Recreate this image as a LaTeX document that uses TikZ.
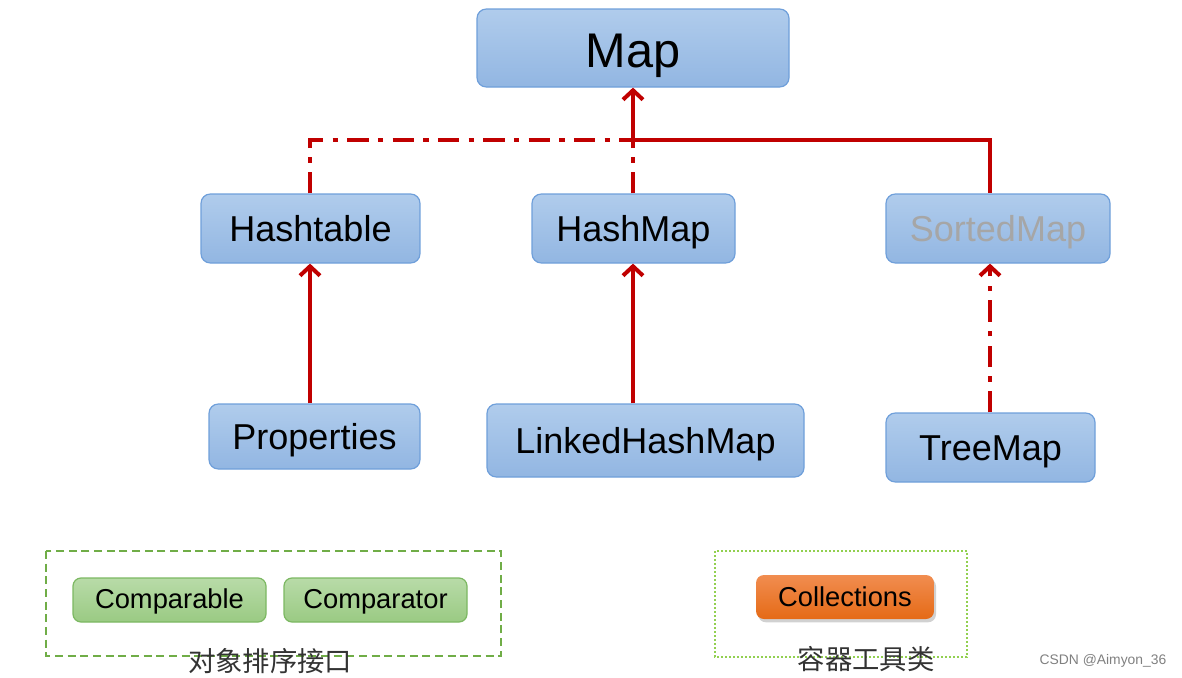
\documentclass[tikz,border=0pt]{standalone}
\usepackage{fontspec}
\setmainfont{Liberation Sans}
\newfontfamily\cjk{Noto Sans CJK SC}
\usetikzlibrary{arrows.meta,shadows}
\definecolor{lred}{HTML}{C00000}
\definecolor{bTop}{HTML}{B0CCEC}
\definecolor{bBot}{HTML}{92B6E2}
\definecolor{bLine}{HTML}{6F9FDA}
\definecolor{gTop}{HTML}{B8DBA8}
\definecolor{gBot}{HTML}{9ACA83}
\definecolor{gLine}{HTML}{7CB862}
\definecolor{oTop}{HTML}{F18D50}
\definecolor{oBot}{HTML}{E56A16}
\definecolor{frameG}{HTML}{70AD47}
\definecolor{frameL}{HTML}{92D050}
\tikzset{
  bluebox/.style={draw=bLine, line width=0.9pt, rounded corners=7pt, top color=bTop, bottom color=bBot, inner sep=0pt, text height=20pt, text depth=0pt, font=\fontsize{27}{30}\selectfont},
  greenbox/.style={draw=gLine, line width=0.9pt, rounded corners=6pt, top color=gTop, bottom color=gBot, inner sep=0pt, text height=13pt, text depth=0pt, minimum height=33pt, font=\fontsize{20.5}{24}\selectfont},
  orangebox/.style={rounded corners=6pt, top color=oTop, bottom color=oBot, inner sep=0pt, text height=14.5pt, text depth=0pt, minimum height=33pt, font=\fontsize{20.5}{24}\selectfont, drop shadow={shadow xshift=1.5pt, shadow yshift=-2.5pt, opacity=0.3, fill=black!60}},
  link/.style={draw=lred, line width=3pt},
  dashdotline/.style={link, dash pattern=on 16pt off 7pt on 4pt off 7pt},
  tip/.style={-{Straight Barb[length=7pt,width=15pt]}},
}
\begin{document}
\begin{tikzpicture}[x=0.75pt, y=-0.75pt]
\useasboundingbox (0,0) rectangle (1182,678);
\node[bluebox, minimum width=234pt, minimum height=58.5pt, text height=28.5pt, font=\fontsize{36.5}{40}\selectfont] (map) at (633,48) {Map};
\node[bluebox, minimum width=164.25pt, minimum height=51.75pt] (hashtable) at (310.5,228.5) {Hashtable};
\node[bluebox, minimum width=152.25pt, minimum height=51.75pt] (hashmap) at (633.5,228.5) {HashMap};
\node[bluebox, minimum width=168pt, minimum height=51.75pt, text=black!35] (sortedmap) at (998,228.5) {SortedMap};
\node[bluebox, minimum width=158.25pt, minimum height=48.75pt] (properties) at (314.5,436.5) {Properties};
\node[bluebox, minimum width=237.75pt, minimum height=54.75pt] (linked) at (645.5,440.5) {LinkedHashMap};
\node[bluebox, minimum width=156.75pt, minimum height=51.75pt] (treemap) at (990.5,447.5) {TreeMap};

\coordinate (junc) at (633,140);
\coordinate (htcorner) at (310,140);
\coordinate (smcorner) at (990,140);

% connectors to Map
\draw[link, tip] (junc) -- (map.south);
\draw[link, line join=miter] (junc) -- (smcorner) -- (smcorner |- sortedmap.north);
\draw[dashdotline] (hashmap.north -| junc) -- (junc);
\draw[dashdotline] (hashtable.north -| htcorner) -- (htcorner) -- (junc);

% lower connectors
\draw[link, tip] (properties.north -| htcorner) -- (hashtable.south -| htcorner);
\draw[link, tip] (linked.north -| junc) -- (hashmap.south -| junc);
\draw[dashdotline, tip] (treemap.north -| smcorner) -- (sortedmap.south -| smcorner);

% bottom groups
\draw[frameG, line width=1.2pt, dash pattern=on 6pt off 3.5pt] (46,551) rectangle (501,656);
\node[greenbox, minimum width=144.75pt] (comparable) at (169.5,600) {Comparable};
\node[greenbox, minimum width=137.25pt] (comparator) at (375.5,600) {Comparator};
\node[font=\cjk\fontsize{20.5}{24}\selectfont, text=black!80] (sortlabel) at (270,661) {对象排序接口};

\draw[frameL, line width=1.2pt, dash pattern=on 1.5pt off 1.5pt] (715,551) rectangle (967,657);
\node[orangebox, minimum width=133.5pt] (collections) at (845,597) {Collections};
\node[font=\cjk\fontsize{20.5}{24}\selectfont, text=black!80] (toollabel) at (866,659) {容器工具类};

\node[font=\fontsize{10.4}{12}\selectfont, text=black!50] (csdn) at (1103,661) {CSDN @Aimyon\_36};
\end{tikzpicture}
\end{document}
